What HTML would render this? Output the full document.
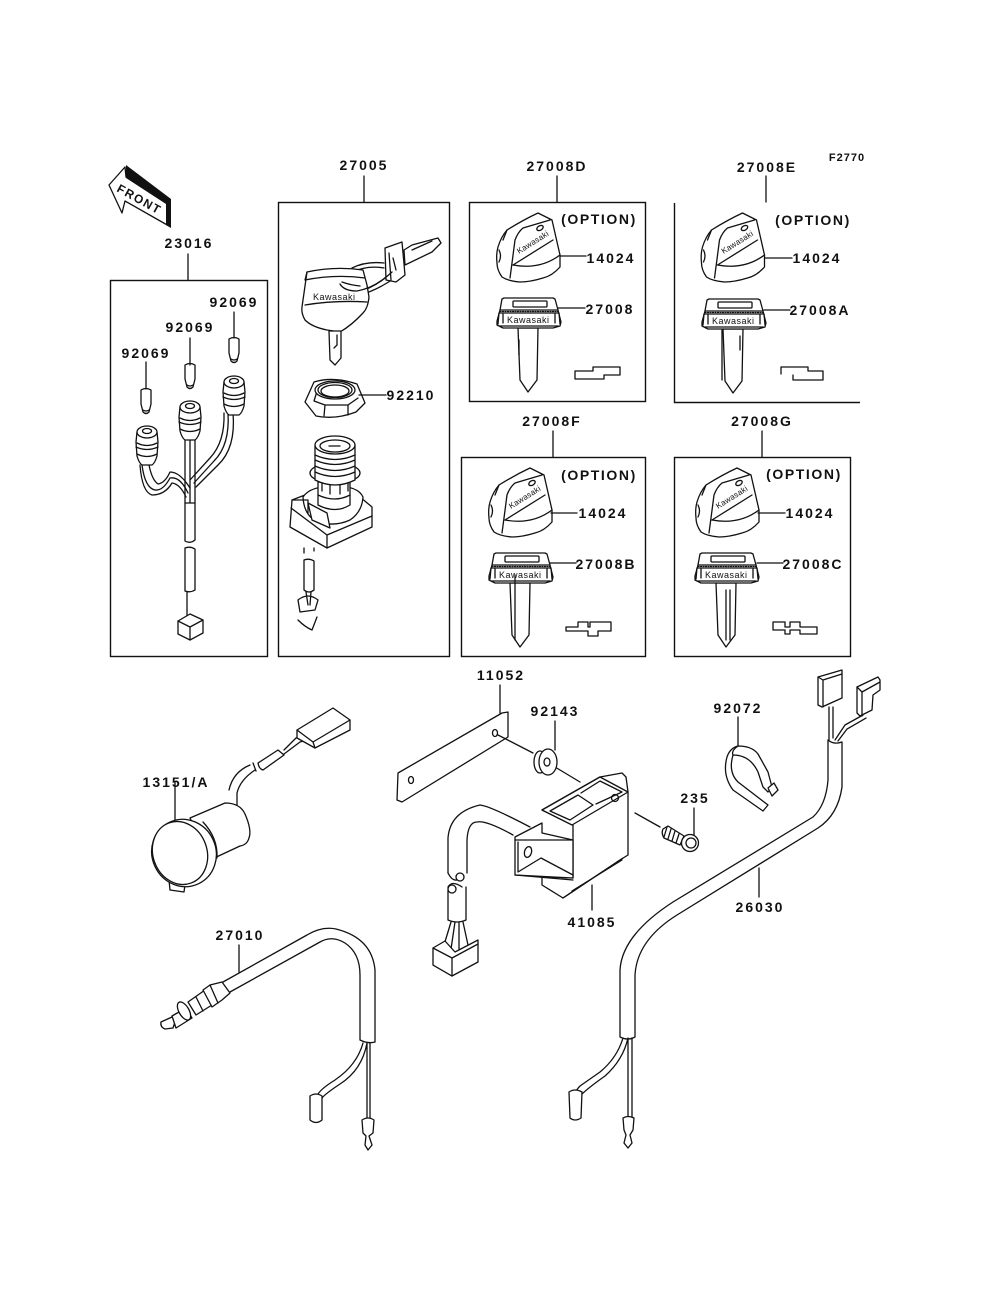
<!DOCTYPE html>
<html><head><meta charset="utf-8"><style>
html,body{margin:0;padding:0;background:#fff}
svg{display:block}
.l{fill:none;stroke:#111;stroke-width:1.3;stroke-linejoin:round;stroke-linecap:round}
.w{fill:#fff;stroke:#111;stroke-width:1.3;stroke-linejoin:round}
.f{fill:none;stroke:#111;stroke-width:1.4}
.t{font-family:"Liberation Sans",sans-serif;font-size:14px;font-weight:bold;letter-spacing:2px;fill:#111;text-anchor:middle}
.o{font-family:"Liberation Sans",sans-serif;font-size:14px;font-weight:bold;letter-spacing:1.6px;fill:#111;text-anchor:middle}
.k{font-family:"Liberation Sans",sans-serif;font-size:9px;letter-spacing:.5px;fill:#111}
</style></head><body>
<svg width="1000" height="1308" viewBox="0 0 1000 1308" xmlns="http://www.w3.org/2000/svg">
<defs>
<g id="knob">
<path class="w" d="M507 230 Q523 220 538 213 L552 220 L560 255 L560 267 Q552 276 543 278 Q530 282 520 282 Q508 281 502 277 Q497 270 497 263 Q496 254 498 247 Q501 237 507 230Z"/>
<path class="l" d="M510 278 L512 263 L515 240 Q518 232 523 228 L550 220 M513 265 L553 240 M513 265 Q540 270 560 255 M507 230 Q505 235 503 240 M499 250 Q502 256 499 262"/>
<ellipse class="l" cx="540" cy="228" rx="3.5" ry="2.2" transform="rotate(-30 540 228)"/>
<text class="k" style="font-size:8px;letter-spacing:.2px" transform="translate(519 254) rotate(-32)">Kawasaki</text>
</g>
<g id="key">
<path class="w" d="M518 328 L520 380 L528 392 L537 380 L538 328Z"/>
<path class="w" d="M500 310 L502 299 L504 298 L553 298 L555 299 L558 310 L561 322 L560 326 L553 328 L503 328 L497 325 L497 321Z"/>
<path class="l" d="M500 310 L558 310 M499 313 L559 313 M499 313 L498 324 M559 313 L560 324 M500 326 L558 326 M503 314 V323 M555 314 V323"/>
<path class="l" stroke-dasharray="1 1.5" d="M500 311.5 L558 311.5"/>
<rect class="l" x="513" y="301" width="34" height="6" rx="1"/>
<text class="k" x="507" y="323">Kawasaki</text>
</g>
<g id="plug">
<path class="w" d="M-10 0 L-11 10 L-10 24 Q-8 31 -5 33 L5 33 Q8 31 10 24 L11 10 L10 0Z"/>
<ellipse class="w" cx="0" cy="0" rx="10" ry="6"/>
<ellipse class="l" cx="0" cy="-1" rx="4.5" ry="2.5"/>
<path class="l" d="M-10 11 Q0 16 10 11 M-11 15 Q0 20 11 15 M-10 22 Q0 27 10 22"/>
</g>
<g id="bulb">
<path class="w" d="M-5 0 Q0 -3 5 0 L5 14 L3 22 Q0 25 -3 22 L-5 14Z"/>
<path class="l" d="M-3 20 Q0 22 3 20"/>
</g>
</defs>

<!-- frames -->
<rect class="f" x="110.5" y="280.5" width="157" height="376"/>
<rect class="f" x="278.5" y="202.5" width="171" height="454"/>
<rect class="f" x="469.5" y="202.5" width="176" height="199"/>
<path class="f" d="M674.5 203 V402.5 H860"/>
<rect class="f" x="461.5" y="457.5" width="184" height="199"/>
<rect class="f" x="674.5" y="457.5" width="176" height="199"/>
<path class="l" d="M188 254V280 M364 176V202 M557 176V202 M766 176V202 M553 431V457 M762 431V457"/>

<!-- labels -->
<text class="t" style="font-size:11px;letter-spacing:1px" x="847" y="161">F2770</text>
<text class="t" x="189" y="248">23016</text>
<text class="t" x="364" y="170">27005</text>
<text class="t" x="557" y="171">27008D</text>
<text class="t" x="767" y="172">27008E</text>
<text class="t" x="552" y="426">27008F</text>
<text class="t" x="762" y="426">27008G</text>
<text class="t" x="234" y="307">92069</text>
<text class="t" x="190" y="332">92069</text>
<text class="t" x="146" y="358">92069</text>
<text class="t" x="411" y="400">92210</text>
<text class="o" x="599" y="224">(OPTION)</text>
<text class="o" x="813" y="225">(OPTION)</text>
<text class="o" x="599" y="480">(OPTION)</text>
<text class="o" x="804" y="479">(OPTION)</text>
<text class="t" x="611" y="263">14024</text>
<text class="t" x="817" y="263">14024</text>
<text class="t" x="603" y="518">14024</text>
<text class="t" x="810" y="518">14024</text>
<text class="t" x="610" y="314">27008</text>
<text class="t" x="820" y="315">27008A</text>
<text class="t" x="606" y="569">27008B</text>
<text class="t" x="813" y="569">27008C</text>
<text class="t" x="501" y="680">11052</text>
<text class="t" x="555" y="716">92143</text>
<text class="t" x="738" y="713">92072</text>
<text class="t" x="176" y="787">13151/A</text>
<text class="t" x="695" y="803">235</text>
<text class="t" x="592" y="927">41085</text>
<text class="t" x="240" y="940">27010</text>
<text class="t" x="760" y="912">26030</text>

<!-- front arrow -->
<path class="w" d="M109 185 L125 167 L126 177 L169 202 L169 226 L125 201 L122 213Z"/>
<path d="M126 165 L171 199 L171 228 L166 225 L166 204 L126 178Z" fill="#111"/>
<text style="font-family:'Liberation Sans',sans-serif;font-size:12px;font-weight:bold;letter-spacing:1.5px;fill:#111" transform="translate(116 191) rotate(29)">FRONT</text>

<!-- 23016 harness -->
<path class="l" d="M228 413 Q230 445 214 461 L194 483 M233 413 Q236 448 218 465 L196 487 M224 413 Q225 442 210 458 L190 480"/>
<path class="l" d="M185 440V503 M190 440V503 M195 440V503"/>
<path class="l" d="M142 465 Q145 488 155 490 Q163 491 170 478 Q180 476 188 493 M149 465 Q152 480 158 484 Q165 483 170 472 Q180 472 190 488 M140 465 Q142 492 152 495 Q165 495 172 483 Q180 484 186 497"/>
<path class="w" d="M185 503 L195 503 L195 540 Q190 544 185 541Z"/>
<path class="w" d="M185 548 Q190 546 195 549 L195 590 Q190 593 185 591Z"/>
<path class="l" d="M187 592V618"/>
<path class="w" d="M178 621 L190 614 L203 620 L203 633 L190 640 L178 634Z"/>
<path class="l" d="M178 621 L190 627 L203 620 M190 627 V640"/>
<use href="#plug" x="234" y="382"/>
<use href="#plug" x="190" y="407"/>
<use href="#plug" x="147" y="432"/>
<use href="#bulb" x="234" y="339"/>
<use href="#bulb" x="190" y="365"/>
<use href="#bulb" x="146" y="390"/>
<path class="l" d="M234 312V338 M190 338V365 M146 362V389"/>

<!-- 27005 main key -->
<path class="l" d="M352 268 Q366 261 384 263 M352 272 Q368 265 384 268 M342 284 Q345 291 357 292 Q375 288 392 272 M342 288 Q348 296 360 295 Q378 290 396 277"/>
<path class="w" d="M385 248 L402 242 L405 275 L396 282 L386 280Z"/>
<path class="l" d="M389 253 L391 280 M393 258 L396 270"/>
<path class="w" d="M404 250 L412 245 L438 238 L441 243 L432 252 L405 265Z"/>
<path class="l" d="M412 250 L432 241"/>
<path class="w" d="M307 272 Q335 266 363 270 L367 285 L369 297 Q368 308 363 313 Q352 325 340 332 L327 330 Q312 327 305 320 Q301 313 302 307Z"/>
<path class="l" d="M305 305 Q335 300 367 302 M307 272 L305 280 Q335 274 365 278"/>
<text class="k" x="313" y="300">Kawasaki</text>
<path class="l" d="M340 284 Q344 291 357 291 Q375 288 392 272 M342 282 Q350 285 360 286"/>
<path class="w" d="M329 331 L330 360 L335 365 L341 358 L341 331Z"/>
<path class="l" d="M337 335 L337 345 L334 348"/>

<!-- nut -->
<path class="w" d="M305 402 L314 382 Q333 376 357 384 L365 403 L356 412 Q335 420 316 416Z"/>
<path class="l" d="M314 401 L325 405 L348 405 L358 398 M325 405 L324 416 M348 405 L348 415 M318 388 L314 401"/>
<ellipse class="w" cx="335" cy="390" rx="20" ry="9"/>
<ellipse class="l" cx="335" cy="391" rx="14" ry="6"/>
<ellipse class="l" cx="335" cy="390" rx="17" ry="7.5"/>
<path class="l" d="M359 395H386"/>

<!-- switch -->
<path class="w" d="M292 500 L290 527 L327 548 L372 527 L372 507 L360 497 L340 490 L305 495Z"/>
<path class="l" d="M291 508 L327 535 L372 516 M327 535V548"/>
<path class="w" d="M303 497 Q304 516 318 522 Q335 527 350 520 Q362 512 363 497 Q358 486 335 486 Q310 486 303 497Z"/>
<path class="w" d="M308 503 L327 513 L330 528 L312 520Z"/>
<path class="l" d="M292 500 L308 500 L308 513"/>
<path class="w" d="M318 482 L318 505 Q335 514 350 505 L350 482Z"/>
<path class="l" d="M318 495 Q335 503 350 495"/>
<ellipse class="w" cx="335" cy="473" rx="25" ry="10"/>
<path class="w" d="M315 445 L315 480 Q335 490 355 480 L355 445Z"/>
<path class="l" d="M315 455 Q335 464 355 455 M315 460 Q335 469 355 460 M315 466 Q335 475 355 466 M315 472 Q335 481 355 472 M322 483 V491 M330 485 V494 M340 485 V494 M348 483 V491"/>
<ellipse class="w" cx="335" cy="445" rx="20" ry="9"/>
<ellipse class="l" cx="335" cy="446" rx="15" ry="6"/>
<path class="l" d="M329 446H340"/>
<path class="l" d="M304 548V553 M314 548V551 M304 560 Q309 558 314 561 V590 Q309 594 304 590 Z M306 592 L308 605 M311 592 L310 605 M298 600 Q308 592 318 600 L315 610 L300 612 Z M298 620 Q305 627 312 630 L317 617"/>

<!-- knobs and keys -->
<use href="#knob"/><use href="#key"/>
<use href="#knob" x="204.5"/><use href="#key" x="205" y="1"/>
<use href="#knob" x="-8" y="255"/><use href="#key" x="-8" y="255"/>
<use href="#knob" x="199" y="255"/><use href="#key" x="198" y="255"/>
<path class="l" d="M560 256H586 M558 308H585 M765 258H792 M764 310H790 M551 513H577 M550 563H576 M758 513H785 M757 563H783"/>
<path class="l" d="M519 340V355 M740 336V350 M722 330V380 M515 575V640 M726 590V640 M730 590V640"/>

<!-- cut profiles -->
<path class="l" d="M575 371 L575 379 L604 379 L604 375 L620 375 L620 367 L593 367 L593 371Z"/>
<path class="l" d="M781 368 V367 H808 V371 H823 V380 H793 V375 M781 367 V374"/>
<path class="l" d="M566 627 H578 V622 H588 V627 H590 V622 H611 V631 H598 V636 H588 V631 H566Z"/>
<path class="l" d="M773 622 H785 V627 H790 V622 H800 V627 H817 V634 H800 V630 H790 V634 H785 V630 H773Z"/>

<!-- 13151/A -->
<path class="l" d="M175 782V820"/>
<path class="l" d="M229 790 Q233 772 250 765 M237 805 L237 793 Q240 780 255 770 M253 763 L256 771 M258 763 L278 750 L284 755 L263 770 Q259 769 258 763Z M284 750 L296 738 L303 735 M284 754 L300 742 L307 740"/>
<path class="w" d="M297 730 L333 708 L350 720 L350 730 L315 748 L297 738Z"/>
<path class="l" d="M297 730 L313 742 L350 720 M313 742 L315 748"/>
<path class="w" d="M190 818 L225 803 Q240 803 245 814 Q252 830 249 838 Q247 845 240 846 L210 860Z"/>
<path class="l" d="M195 822 Q212 840 213 860 M203 822 Q218 838 217 858"/>
<path class="w" d="M169 880 L170 890 L184 892 L185 885Z"/>
<ellipse class="w" cx="184" cy="853" rx="32" ry="34" transform="rotate(-25 184 853)"/>
<ellipse class="w" cx="180" cy="853" rx="27" ry="32" transform="rotate(-20 180 853)"/>

<!-- 27010 -->
<path class="l" d="M223 982 L307 935 Q322 926 336 929 Q372 938 375 970 L375 1042 M230 992 L320 942 Q332 935 345 943 Q360 953 360 975 L360 1040 M360 1040 Q368 1044 375 1042"/>
<path class="l" d="M363 1043 Q357 1065 335 1080 Q319 1090 317 1096 M367 1043 Q362 1070 340 1084 Q325 1094 322 1098 M367 1043 L367 1118 M370 1043 L370 1118"/>
<path class="w" d="M310 1096 Q316 1092 322 1096 L322 1120 Q316 1125 310 1120Z"/>
<path class="w" d="M362 1120 Q368 1116 374 1120 L373 1133 L369 1136 L372 1145 L368 1150 L365 1145 L366 1136 L363 1133Z"/>
<path class="l" d="M239 945 V972"/>
<!-- sensor -->
<path class="w" d="M161 1022 L172 1017 L176 1019 L173 1028 L165 1029 Q160 1027 161 1022Z"/>
<path class="w" d="M172 1016 L186 1008 L192 1018 L176 1028Z"/>
<ellipse class="w" cx="184" cy="1011" rx="5" ry="10" transform="rotate(-30 184 1011)"/>
<path class="w" d="M188 1002 L205 990 L212 1005 L196 1015Z"/>
<path class="w" d="M203 990 L210 985 L222 982 L230 993 L222 1000 L212 1007Z"/>
<path class="l" d="M210 985 L218 1003 M196 997 L203 1011"/>

<!-- 11052 bracket -->
<path class="w" d="M398 773 L502 713 L508 712 L508 737 L402 802 L397 800Z"/>
<ellipse class="l" cx="411" cy="780" rx="2.5" ry="3.5"/>
<ellipse class="l" cx="495" cy="733" rx="2.5" ry="3.5"/>
<path class="l" d="M500 685V713 M498 735 L533 753 M555 767 L580 782 M555 721V750"/>
<ellipse class="w" cx="540" cy="762" rx="6" ry="11"/>
<ellipse class="w" cx="548" cy="762" rx="9" ry="13"/>
<ellipse class="l" cx="547" cy="762" rx="3" ry="4"/>

<!-- 41085 -->
<path class="l" d="M448 873 L448 838 Q450 812 480 805 Q490 806 530 827 M467 873 L467 840 Q468 822 477 822 Q486 820 513 835"/>
<circle class="l" cx="460" cy="877" r="4"/>
<circle class="l" cx="452" cy="889" r="4"/>
<path class="l" d="M448 873 Q452 881 457 880 M448 890 L448 920 M466 887 L466 920 M448 920 Q457 924 466 920 M448 887 Q452 880 462 887"/>
<path class="l" d="M451 922 L444 945 M455 922 L451 949 M459 922 L459 949 M463 922 L468 945"/>
<path class="w" d="M433 948 L445 941 L455 952 L478 940 L478 962 L452 976 L433 965Z"/>
<path class="l" d="M433 948 L452 958 L478 944 M452 958V976"/>
<path class="w" d="M542 810 L600 777 L622 773 L626 777 L628 792 L628 855 L620 860 L563 898 L542 885 L542 877 L573 878 L573 825Z"/>
<path class="w" d="M542 810 L600 777 L628 792 L572 825Z"/>
<path class="l" d="M550 811 L578 795 L593 805 L570 820Z M581 793 L600 781 L622 792 L596 804"/>
<circle class="l" cx="615" cy="798" r="3.5"/>
<path class="l" d="M563 898 L623 858 M572 891 L622 860"/>
<path class="w" d="M515 837 L542 823 L542 833 L573 840 L573 878 L515 875Z"/>
<path class="l" d="M515 840 L573 840 M518 842 V872 M518 872 L541 858 L573 875 M515 875 L573 880"/>
<ellipse class="l" cx="528" cy="852" rx="3.5" ry="5.5" transform="rotate(15 528 852)"/>
<path class="l" d="M592 885V910"/>

<!-- 235 screw -->
<path class="l" d="M635 813 L660 827"/>
<path class="w" d="M663 829 L668 826 L684 836 L680 845 L664 838 Q661 833 663 829Z"/>
<path class="l" d="M667 827 L664 837 M671 829 L668 839 M675 831 L672 841 M679 834 L676 843"/>
<circle class="w" cx="690" cy="843" r="8.5"/>
<circle class="l" cx="691" cy="843" r="5"/>
<path class="l" d="M694 808V835"/>

<!-- 92072 clamp -->
<path class="l" d="M738 717V746"/>
<path class="w" d="M738 746 Q752 746 758 754 L768 772 L772 787 L768 792 L763 787 L758 772 Q750 755 733 755 Q728 772 738 782 L768 805 L763 811 L733 790 Q722 775 727 757 Q730 748 738 746Z"/>
<path class="w" d="M768 788 L774 783 L778 790 L772 796 Z"/>
<path class="l" d="M733 755 Q731 751 738 746"/>

<!-- 26030 -->
<path class="l" d="M828 740 L828 780 Q826 805 813 817 L673 902 Q622 935 620 970 L620 1037 M842 742 L842 787 Q838 815 818 828 L677 915 Q637 940 635 975 L635 1037 M620 1037 Q628 1041 635 1037 M828 740 Q834 745 842 742"/>
<path class="l" d="M623 1038 Q617 1058 600 1072 L580 1086 Q576 1090 575 1094 M628 1038 Q623 1060 605 1076 Q588 1088 581 1095 M628 1038 V1117 M632 1038 V1117"/>
<path class="w" d="M569 1092 Q575 1088 582 1092 L581 1118 Q575 1122 570 1118Z"/>
<path class="w" d="M623 1118 Q628 1115 634 1118 L633 1130 L630 1135 L632 1143 L628 1148 L624 1143 L626 1135 L624 1130Z"/>
<path class="l" d="M829 707 V740 M833 707 V738 M835 740 L845 725 L863 715 M838 741 L847 729 L866 718"/>
<path class="w" d="M818 677 L842 670 L842 698 L822 707 L818 705Z"/>
<path class="l" d="M818 677 L823 680 L842 674 M823 680 V707"/>
<path class="w" d="M857 687 L878 677 L880 680 L880 690 L873 695 L872 710 L860 716 L857 713Z"/>
<path class="l" d="M857 687 L862 692 L880 682 M862 692 V716"/>
<path class="l" d="M759 868V897"/>
</svg>
</body></html>
